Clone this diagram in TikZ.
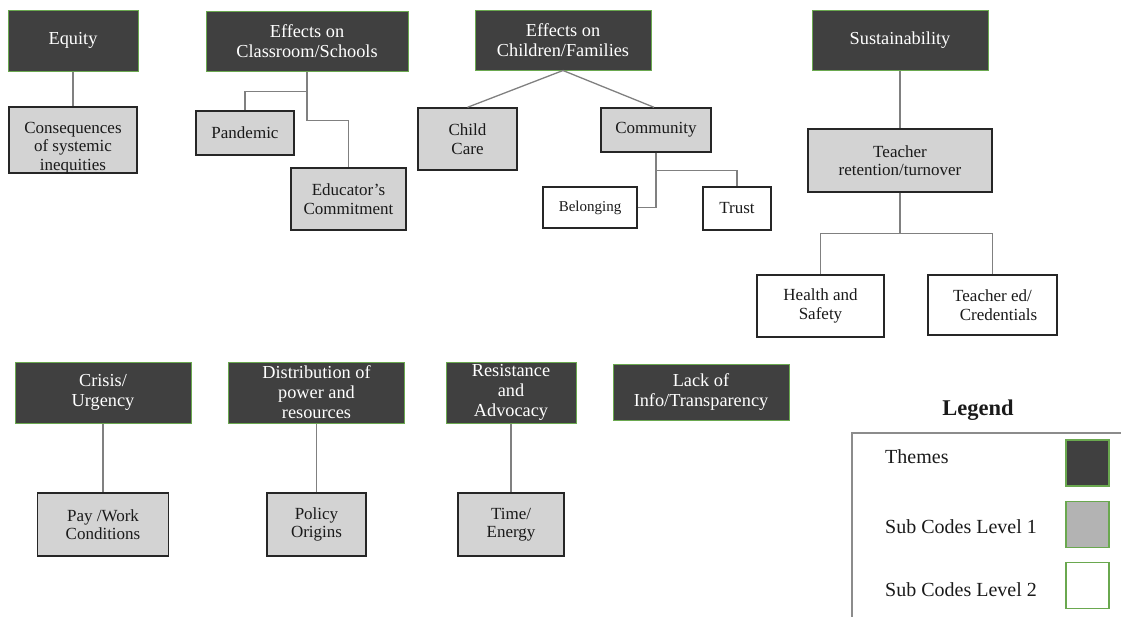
\documentclass[tikz,border=0pt]{standalone}
\usepackage{fontspec}
\setmainfont{Liberation Serif}
\usetikzlibrary{calc}
\definecolor{themefill}{HTML}{404040}
\definecolor{themeedge}{HTML}{6AA84F}
\definecolor{lonefill}{HTML}{D3D3D3}
\definecolor{swatchgray}{HTML}{B3B3B3}
\definecolor{linkgray}{HTML}{808080}
\definecolor{inktext}{HTML}{1A1A1A}
\tikzset{
  theme/.style={draw=themeedge, line width=1pt, fill=themefill, text=white, align=center,
    inner sep=0pt, font=\fontsize{18.3}{20}\selectfont},
  levelone/.style={draw=black!85, line width=1.4pt, fill=lonefill, text=inktext, align=center,
    inner sep=0pt, font=\fontsize{17}{18.5}\selectfont},
  lonelabel/.style={text=inktext, align=center, inner sep=0pt, font=\fontsize{17}{18.5}\selectfont},
  leveltwo/.style={draw=black!85, line width=1.2pt, fill=white, text=inktext, align=center,
    inner sep=0pt, font=\fontsize{17}{19}\selectfont},
  link/.style={draw=linkgray, line width=1.3pt},
  swatch/.style={draw=themeedge, line width=1.2pt, minimum width=43pt, minimum height=46pt, inner sep=0pt},
  legtext/.style={anchor=west, inner sep=0pt, text=inktext, font=\fontsize{20}{23}\selectfont}
}
\begin{document}
\begin{tikzpicture}[x=1pt,y=-1pt]
\useasboundingbox (0,0) rectangle (1121,616);

% ---- top row
\node[theme, minimum width=130pt, minimum height=61pt] (eq) at (73,40.5) {Equity};
\node[levelone, minimum width=128pt, minimum height=66pt,
  label={[lonelabel, yshift=-8pt]center:{Consequences\\of systemic\\inequities}}] (con) at (73,140) {};
\draw[link] (eq.south) -- (con.north);

\node[theme, minimum width=202pt, minimum height=60pt] (cls) at (307,41) {Effects on\\Classroom/Schools};
\node[levelone, minimum width=98pt, minimum height=44pt] (pan) at (245,133) {Pandemic};
\node[levelone, minimum width=115pt, minimum height=62pt] (edu) at (348.5,199) {Educator's\\Commitment};
\draw[link] (cls.south) -- ++(0,20) coordinate (cj) -| (pan.north);
\draw[link] (cj) -- ++(0,29) -| (edu.north);

\node[theme, minimum width=176pt, minimum height=60pt] (chf) at (563,40) {Effects on\\Children/Families};
\node[levelone, minimum width=99pt, minimum height=62pt] (cc) at (467.5,139) {Child\\Care};
\node[levelone, minimum width=110pt, minimum height=44pt] (com) at (656,130) {Community};
\node[leveltwo, minimum width=94pt, minimum height=41pt, font=\fontsize{15}{18}\selectfont] (bel) at (590,207.5) {Belonging};
\node[leveltwo, minimum width=68pt, minimum height=43pt] (tru) at (737,208.5) {Trust};
\draw[link] (chf.south) -- (cc.north);
\draw[link] (chf.south) -- ($(com.north)+(-2,0)$);
\draw[link] (com.south) -- ++(0,18) coordinate (cm) -| (tru.north);
\draw[link] (cm) |- (bel.east);

\node[theme, minimum width=176pt, minimum height=60pt] (sus) at (900,40) {Sustainability};
\node[levelone, minimum width=184pt, minimum height=63pt] (tr) at (900,160.5) {Teacher\\retention/turnover};
\node[leveltwo, minimum width=127pt, minimum height=62pt] (hs) at (820.5,306) {Health and\\Safety};
\node[leveltwo, minimum width=129pt, minimum height=60pt] (te) at (992.5,305) {Teacher ed/\\\hspace*{12pt}Credentials};
\draw[link] (sus.south) -- (tr.north);
\draw[link] (tr.south) -- ++(0,41) coordinate (tj);
\draw[link] (hs.north) |- (tj) -| (te.north);

% ---- bottom row
\node[theme, minimum width=176pt, minimum height=61pt] (cri) at (103,392.5) {Crisis/\\Urgency};
\node[levelone, minimum width=131pt, minimum height=63pt] (pay) at (103,524.5) {Pay /Work\\Conditions};
\draw[link] (cri.south) -- (pay.north);

\node[theme, minimum width=176pt, minimum height=61pt] (dis) at (316.5,392.5) {Distribution of\\power and\\resources};
\node[levelone, minimum width=99pt, minimum height=63pt] (pol) at (316.5,524.5) {Policy\\Origins};
\draw[link] (dis.south) -- (pol.north);

\node[theme, minimum width=130pt, minimum height=61pt] (res) at (511,392.5) {Resistance\\and\\Advocacy};
\node[levelone, minimum width=106pt, minimum height=63pt] (tim) at (511,524.5) {Time/\\Energy};
\draw[link] (res.south) -- (tim.north);

\node[theme, minimum width=176pt, minimum height=56pt] (lak) at (701,392) {Lack of\\Info/Transparency};

% ---- legend
\node[font=\fontsize{22.5}{25}\selectfont\bfseries, text=inktext, inner sep=0pt] (legt) at (978,410) {Legend};
\coordinate (lgA) at (852,620);
\coordinate (lgB) at (852,433);
\coordinate (lgC) at (1125,433);
\draw[draw=black!45, line width=1.2pt] (lgA) -- (lgB) -- (lgC);
\node[legtext] (lt1) at (885,457) {Themes};
\node[legtext] (lt2) at (885,527) {Sub Codes Level 1};
\node[legtext] (lt3) at (885,590) {Sub Codes Level 2};
\node[swatch, fill=themefill] (sw1) at (1087.5,463) {};
\node[swatch, fill=swatchgray] (sw2) at (1087.5,524.5) {};
\node[swatch, fill=white] (sw3) at (1087.5,585.5) {};
\end{tikzpicture}
\end{document}
